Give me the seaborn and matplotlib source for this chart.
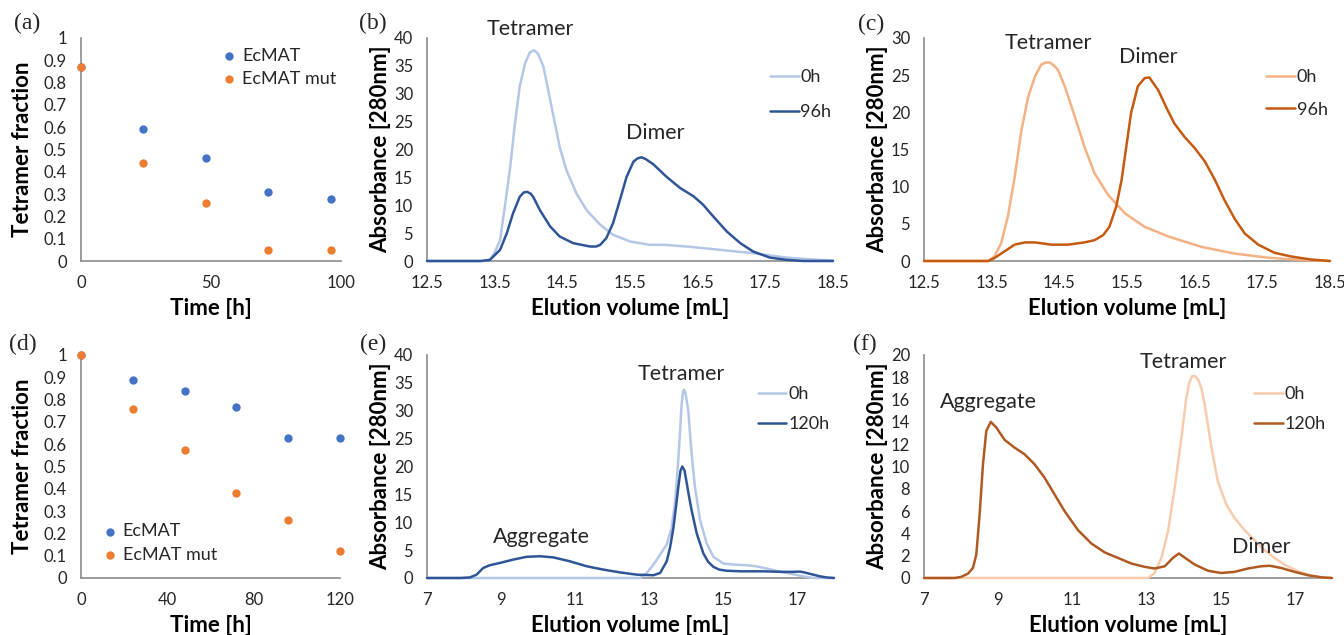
import numpy as np
import pandas as pd
import seaborn as sns
import matplotlib.pyplot as plt
from matplotlib.ticker import FuncFormatter

# ---- data ----
# (a) tetramer fraction vs time, 96 h series
time_a = [0, 24, 48, 72, 96]
ecmat_a = [0.87, 0.59, 0.46, 0.31, 0.28]
mut_a = [0.87, 0.44, 0.26, 0.05, 0.05]

# (d) tetramer fraction vs time, 120 h series
time_d = [0, 24, 48, 72, 96, 120]
ecmat_d = [1.0, 0.89, 0.84, 0.765, 0.63, 0.63]
mut_d = [1.0, 0.76, 0.575, 0.38, 0.26, 0.12]

# (b) EcMAT SEC traces
b0_x = [12.5, 13.3, 13.43, 13.5, 13.58, 13.65, 13.73, 13.8, 13.87, 13.95, 14.02, 14.08, 14.14,
        14.22, 14.29, 14.37, 14.46, 14.56, 14.71, 14.86, 15.06, 15.25, 15.5, 15.79, 16.0,
        16.34, 16.83, 17.32, 17.82, 18.3, 18.5]
b0_y = [0, 0, 0.2, 1.5, 3.8, 9.7, 16.9, 24.7, 31.3, 35.5, 37.4, 37.8, 37.2,
        34.9, 30.7, 25.9, 20.5, 16.3, 12.1, 9.1, 6.5, 4.7, 3.5, 2.9, 2.9,
        2.6, 2.0, 1.4, 0.6, 0.2, 0.1]
b96_x = [12.5, 13.3, 13.43, 13.58, 13.68, 13.77, 13.87, 13.93, 13.98, 14.03, 14.07, 14.17,
         14.32, 14.46, 14.66, 14.91, 15.0, 15.06, 15.15, 15.25, 15.35, 15.45, 15.55, 15.61,
         15.67, 15.73, 15.79, 15.84, 16.04, 16.24, 16.44, 16.58, 16.73, 16.93, 17.13, 17.32,
         17.57, 17.82, 18.06, 18.5]
b96_y = [0, 0, 0.2, 2.0, 5.0, 8.5, 11.5, 12.3, 12.4, 12.1, 11.5, 9.1,
         6.2, 4.4, 3.2, 2.6, 2.6, 2.9, 4.1, 6.8, 10.9, 15.1, 17.8, 18.4,
         18.6, 18.3, 17.8, 17.4, 15.1, 13.1, 11.6, 10.1, 8.0, 5.3, 3.2, 1.7,
         0.6, 0.2, 0, 0]

# (c) EcMAT mut SEC traces
c0_x = [12.5, 13.45, 13.54, 13.64, 13.74, 13.84, 13.94, 14.04, 14.14, 14.23, 14.3, 14.36,
        14.42, 14.48, 14.58, 14.73, 14.87, 15.02, 15.22, 15.47, 15.76, 16.11, 16.6, 17.09,
        17.58, 18.08, 18.5]
c0_y = [0, 0, 0.6, 2.4, 6.0, 11.3, 17.6, 22.1, 24.8, 26.4, 26.7, 26.7,
        26.3, 25.7, 23.5, 19.4, 15.4, 11.8, 8.9, 6.4, 4.6, 3.3, 1.9, 1.0,
        0.45, 0.13, 0]
c96_x = [12.5, 13.45, 13.54, 13.69, 13.84, 13.99, 14.14, 14.38, 14.63, 14.87, 15.02, 15.15,
         15.24, 15.34, 15.42, 15.49, 15.56, 15.66, 15.76, 15.83, 15.96, 16.1, 16.2, 16.35,
         16.5, 16.65, 16.8, 16.94, 17.09, 17.24, 17.44, 17.68, 17.93, 18.22, 18.5]
c96_y = [0, 0, 0.4, 1.3, 2.2, 2.5, 2.5, 2.2, 2.2, 2.5, 2.8, 3.5,
         4.6, 7.3, 10.9, 15.4, 19.9, 23.5, 24.6, 24.7, 23.0, 20.3, 18.5, 16.7,
         15.2, 13.4, 10.9, 8.2, 5.7, 3.7, 2.2, 1.1, 0.6, 0.2, 0]

# (e) EcMAT SEC traces, 120 h
e0_x = [7, 12.76, 12.94, 13.12, 13.3, 13.48, 13.61, 13.7, 13.75, 13.8, 13.84, 13.88, 13.92,
        13.95, 13.99, 14.06, 14.15, 14.24, 14.38, 14.56, 14.74, 15.01, 15.3, 15.6, 15.9,
        16.18, 16.5, 16.8, 17.17, 17.44, 18]
e0_y = [0, 0, 0.9, 2.4, 4.2, 6.0, 9.0, 13.5, 17.4, 22.0, 26.3, 31.1, 33.4,
        33.8, 33.0, 30.1, 22.4, 16.4, 10.4, 6.2, 3.8, 2.6, 2.4, 2.3, 2.1,
        1.7, 1.2, 0.8, 0.3, 0, 0]
e120_x = [7, 7.9, 8.16, 8.34, 8.52, 8.7, 8.97, 9.33, 9.69, 10.05, 10.41, 10.86, 11.32, 11.77,
          12.22, 12.67, 13.12, 13.3, 13.48, 13.57, 13.66, 13.73, 13.79, 13.85, 13.9, 13.96,
          14.02, 14.08, 14.15, 14.29, 14.47, 14.6, 14.74, 14.9, 15.1, 15.5, 16.1, 16.6,
          16.85, 17.08, 17.2, 17.44, 17.62, 17.8, 18]
e120_y = [0, 0, 0.1, 0.6, 1.8, 2.3, 2.7, 3.3, 3.8, 3.9, 3.7, 3.0, 2.1, 1.5,
          1.0, 0.6, 0.5, 0.9, 3.0, 5.5, 9.0, 12.8, 16.2, 19.2, 20.0, 19.3,
          17.0, 14.7, 12.2, 8.0, 4.4, 2.9, 2.0, 1.5, 1.3, 1.2, 1.2, 1.1,
          1.1, 1.15, 1.0, 0.6, 0.3, 0.1, 0]

# (f) EcMAT mut SEC traces, 120 h
f0_x = [7, 13.04, 13.22, 13.4, 13.58, 13.76, 13.94, 14.07, 14.15, 14.23, 14.31, 14.39, 14.48,
        14.57, 14.75, 14.92, 15.15, 15.37, 15.64, 15.91, 16.18, 16.45, 16.72, 17.08, 17.44,
        17.8, 18]
f0_y = [0, 0, 0.45, 1.8, 4.2, 8.1, 12.6, 16.1, 17.5, 18.1, 18.1, 17.8, 17.0,
        15.5, 11.7, 8.7, 6.6, 5.4, 4.3, 3.4, 2.5, 1.8, 1.2, 0.6, 0.2,
        0.03, 0]
f120_x = [7, 7.83, 8.0, 8.19, 8.32, 8.41, 8.5, 8.59, 8.68, 8.8, 8.95, 9.17, 9.44, 9.71, 9.98,
          10.25, 10.52, 10.79, 11.15, 11.51, 11.87, 12.23, 12.59, 12.95, 13.22, 13.49, 13.71,
          13.87, 14.02, 14.3, 14.66, 15.01, 15.37, 15.73, 16.09, 16.32, 16.63, 16.99, 17.35,
          17.71, 18]
f120_y = [0, 0, 0.1, 0.4, 0.9, 2.1, 5.7, 10.2, 13.2, 14.0, 13.5, 12.4, 11.7, 11.1, 10.2,
          9.0, 7.5, 6.0, 4.3, 3.1, 2.3, 1.8, 1.3, 1.0, 0.85, 1.05, 1.8,
          2.2, 1.85, 1.2, 0.65, 0.45, 0.55, 0.85, 1.05, 1.1, 0.9, 0.55, 0.25,
          0.06, 0]

sns.set_theme(style="white")
plt.rcParams['font.family'] = ['Lato', 'DejaVu Sans']

W, H = 1344, 635
fig = plt.figure(figsize=(W / 100, H / 100), dpi=100)


def px_axes(x0, x1, ytop, ybot):
    return fig.add_axes([x0 / W, 1 - ybot / H, (x1 - x0) / W, (ybot - ytop) / H])


BLUE, ORANGE = "#4472C4", "#ED7D31"
TICK_FS, LABEL_FS, ANN_FS, LEG_FS = 12, 16, 15.5, 13
fmt = FuncFormatter(lambda v, p: f"{v:g}")


def style(ax, xlim, xticks, ylim, yticks, xlabel, ylabel, ylab_x):
    ax.set_xlim(*xlim)
    ax.set_ylim(*ylim)
    ax.set_xticks(xticks)
    ax.set_yticks(yticks)
    ax.xaxis.set_major_formatter(fmt)
    ax.yaxis.set_major_formatter(fmt)
    sns.despine(ax=ax)
    for s in ("left", "bottom"):
        ax.spines[s].set_color("#8c8c8c")
        ax.spines[s].set_linewidth(1.2)
    ax.tick_params(length=0, labelsize=TICK_FS, labelcolor="#262626", pad=10)
    ax.set_xlabel(xlabel, fontsize=LABEL_FS, fontweight="bold", color="black")
    ax.set_ylabel(ylabel, fontsize=LABEL_FS, fontweight="bold", color="black")
    ax.xaxis.set_label_coords(0.5, -0.165)
    ax.yaxis.set_label_coords(ylab_x, 0.5)


def scatter_panel(ax, t, e, m, xmax, xticks, loc_xy):
    sns.scatterplot(x=t, y=e, color=BLUE, s=36, linewidth=0, label="EcMAT", ax=ax,
                    clip_on=False, zorder=3)
    sns.scatterplot(x=t, y=m, color=ORANGE, s=36, linewidth=0, label="EcMAT mut", ax=ax,
                    clip_on=False, zorder=4)
    style(ax, (0, xmax), xticks, (0, 1), np.arange(0, 1.01, 0.1),
          "Time [h]", "Tetramer fraction", -0.185)
    ax.legend(loc="upper left", bbox_to_anchor=loc_xy, frameon=False, fontsize=LEG_FS,
              handlelength=0.8, handletextpad=0.3, borderpad=0, labelspacing=0.4,
              markerscale=1.0)


def line_panel(ax, series, colors, labels, xlim, xticks, ylim, yticks, leg_xy, lsp, notes):
    for (x, y), c, lab in zip(series, colors, labels):
        sns.lineplot(x=x, y=y, color=c, linewidth=1.8, label=lab, ax=ax,
                     clip_on=False, zorder=3)
    style(ax, xlim, xticks, ylim, yticks, "Elution volume [mL]", "Absorbance [280nm]", -0.088)
    ax.legend(loc="upper left", bbox_to_anchor=leg_xy, frameon=False, fontsize=LEG_FS,
              handlelength=1.6, handletextpad=0.1, borderpad=0, labelspacing=lsp)
    for txt, x, y in notes:
        ax.text(x, y, txt, fontsize=ANN_FS, ha="center", va="center", clip_on=False)


ax_a = px_axes(81, 341, 38, 261)
ax_b = px_axes(427, 833, 38, 261)
ax_c = px_axes(924, 1330, 38, 261)
ax_d = px_axes(81, 340, 355, 578)
ax_e = px_axes(427, 834, 355, 578)
ax_f = px_axes(924, 1332, 355, 578)

scatter_panel(ax_a, time_a, ecmat_a, mut_a, 100, [0, 50, 100], (0.508, 0.997))
scatter_panel(ax_d, time_d, ecmat_d, mut_d, 120, [0, 40, 80, 120], (0.05, 0.285))

line_panel(ax_b, [(b0_x, b0_y), (b96_x, b96_y)], ["#B4C7E7", "#2F5597"], ["0h", "96h"],
           (12.5, 18.5), np.arange(12.5, 18.6, 1), (0, 40), np.arange(0, 41, 5),
           (0.822, 0.9), 1.05, [("Tetramer", 14.02, 41.6), ("Dimer", 15.87, 23.0)])
line_panel(ax_c, [(c0_x, c0_y), (c96_x, c96_y)], ["#F4B183", "#C55A11"], ["0h", "96h"],
           (12.5, 18.5), np.arange(12.5, 18.6, 1), (0, 30), np.arange(0, 31, 5),
           (0.82, 0.9), 0.9, [("Tetramer", 14.33, 29.3), ("Dimer", 15.81, 27.4)])
line_panel(ax_e, [(e0_x, e0_y), (e120_x, e120_y)], ["#B4C7E7", "#2F5597"], ["0h", "120h"],
           (7, 18), [7, 9, 11, 13, 15, 17], (0, 40), np.arange(0, 41, 5),
           (0.79, 0.9), 0.75, [("Tetramer", 13.86, 36.6), ("Aggregate", 10.1, 7.4)])
line_panel(ax_f, [(f0_x, f0_y), (f120_x, f120_y)], ["#F8CBAD", "#B05A23"], ["0h", "120h"],
           (7, 18), [7, 9, 11, 13, 15, 17], (0, 20), np.arange(0, 21, 2),
           (0.787, 0.9), 0.75, [("Tetramer", 14.0, 19.4), ("Aggregate", 8.75, 15.8),
                                ("Dimer", 16.1, 2.8)])

for lab, x, y in [("(a)", 27, 23), ("(b)", 373, 23), ("(c)", 871, 24),
                  ("(d)", 23, 344), ("(e)", 373, 344), ("(f)", 865, 344)]:
    fig.text(x / W, 1 - y / H, lab, fontsize=17, family="Liberation Serif",
             ha="center", va="center")

fig.savefig("out.png", dpi=100)
